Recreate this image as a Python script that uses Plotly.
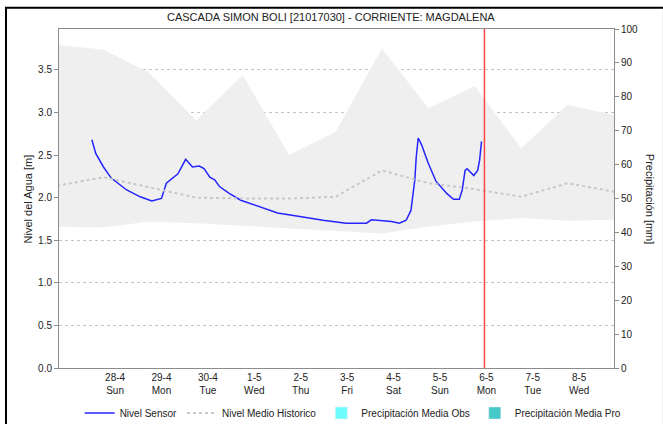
import plotly.graph_objects as go

# ---------------- data ----------------
title_text = "CASCADA SIMON BOLI [21017030] - CORRIENTE: MAGDALENA"

sensor_time = [
    "2019-04-28 00:00", "2019-04-28 02:00", "2019-04-28 06:00", "2019-04-28 10:00",
    "2019-04-28 18:00", "2019-04-29 01:00", "2019-04-29 07:00", "2019-04-29 11:00",
    "2019-04-29 12:00", "2019-04-29 14:30", "2019-04-29 18:00", "2019-04-29 20:30",
    "2019-04-30 00:30", "2019-04-30 04:00", "2019-04-30 07:30", "2019-04-30 10:00",
    "2019-04-30 13:00", "2019-04-30 15:30", "2019-04-30 18:00", "2019-04-30 23:00",
    "2019-05-01 05:00", "2019-05-01 15:00", "2019-05-02 00:00", "2019-05-02 11:30",
    "2019-05-02 23:30", "2019-05-03 11:30", "2019-05-03 22:00", "2019-05-04 00:30",
    "2019-05-04 06:30", "2019-05-04 11:00", "2019-05-04 15:00", "2019-05-04 18:30",
    "2019-05-04 21:00", "2019-05-04 23:00", "2019-05-04 23:45", "2019-05-05 00:45",
    "2019-05-05 02:30", "2019-05-05 06:00", "2019-05-05 10:00", "2019-05-05 15:30",
    "2019-05-05 19:00", "2019-05-05 22:00", "2019-05-05 23:30", "2019-05-06 01:00",
    "2019-05-06 02:00", "2019-05-06 04:00", "2019-05-06 05:30", "2019-05-06 07:30",
    "2019-05-06 08:30", "2019-05-06 09:30",
]
sensor_level = [
    2.68, 2.52, 2.36, 2.23,
    2.09, 2.01, 1.96, 1.98,
    1.99, 2.17, 2.23, 2.28,
    2.45, 2.36, 2.37, 2.34,
    2.24, 2.21, 2.13, 2.05,
    1.97, 1.89, 1.82, 1.78,
    1.735, 1.70, 1.70, 1.74,
    1.73, 1.72, 1.70, 1.735,
    1.85, 2.21, 2.48, 2.70,
    2.62, 2.40, 2.19, 2.05,
    1.98, 1.98, 2.09, 2.32,
    2.34, 2.30, 2.26, 2.32,
    2.44, 2.66,
]

hist_time = [
    "2019-04-27 06:00", "2019-04-28 06:00", "2019-04-29 06:00", "2019-04-30 06:00",
    "2019-05-01 06:00", "2019-05-02 06:00", "2019-05-03 06:00", "2019-05-04 06:00",
    "2019-05-05 06:00", "2019-05-06 06:00", "2019-05-07 06:00", "2019-05-08 06:00",
    "2019-05-09 06:00",
]
hist_max = [3.79, 3.74, 3.46, 2.91, 3.44, 2.50, 2.77, 3.75, 3.05, 3.31, 2.58, 3.09, 2.97]
hist_min = [1.66, 1.65, 1.72, 1.70, 1.67, 1.64, 1.61, 1.58, 1.66, 1.72, 1.76, 1.73, 1.74]
hist_mean = [2.14, 2.24, 2.12, 2.00, 1.99, 1.99, 2.01, 2.32, 2.17, 2.10, 2.01, 2.17, 2.07]

# no precipitation recorded in the period (legend entries only)
precip_obs_time = ["2019-05-06 11:00"]
precip_obs = [None]
precip_pro_time = ["2019-05-06 11:00"]
precip_pro = [None]

day_label_pos = [
    "2019-04-28 12:00", "2019-04-29 12:00", "2019-04-30 12:00", "2019-05-01 12:00",
    "2019-05-02 12:00", "2019-05-03 12:00", "2019-05-04 12:00", "2019-05-05 12:00",
    "2019-05-06 12:00", "2019-05-07 12:00", "2019-05-08 12:00",
]
day_label_text = [
    "28-4<br>Sun", "29-4<br>Mon", "30-4<br>Tue", "1-5<br>Wed", "2-5<br>Thu",
    "3-5<br>Fri", "4-5<br>Sat", "5-5<br>Sun", "6-5<br>Mon", "7-5<br>Tue", "8-5<br>Wed",
]

now_time = "2019-05-06 11:00"
x_range = ["2019-04-27 07:00", "2019-05-09 06:00"]
level_range = [0, 3.98]
precip_range = [0, 100]

# ---------------- figure ----------------
FONT = "Liberation Sans, Arial, sans-serif"
AXIS_COLOR = "#8c8c8c"
GRID_COLOR = "#c4c4c4"

fig = go.Figure()

fig.add_trace(go.Scatter(x=hist_time, y=hist_min, mode="lines", line=dict(width=0),
                         showlegend=False, hoverinfo="skip"))
fig.add_trace(go.Scatter(x=hist_time, y=hist_max, mode="lines", line=dict(width=0),
                         fill="tonexty", fillcolor="#efefef", showlegend=False,
                         hoverinfo="skip"))
fig.add_trace(go.Scatter(x=sensor_time, y=sensor_level, mode="lines", name="Nivel Sensor",
                         line=dict(color="#2424ff", width=1.5)))
fig.add_trace(go.Scatter(x=hist_time, y=hist_mean, mode="lines", name="Nivel Medio Historico",
                         line=dict(color="#c8c8c8", width=2, dash="dot")))
fig.add_trace(go.Bar(x=precip_obs_time, y=precip_obs, name="Precipitación Media Obs",
                     marker_color="#6ffcfc", yaxis="y2"))
fig.add_trace(go.Bar(x=precip_pro_time, y=precip_pro, name="Precipitación Media Pro",
                     marker_color="#45c8c8", yaxis="y2"))

fig.update_layout(
    width=663, height=424,
    margin=dict(l=59, r=49, t=29, b=56, autoexpand=False),
    paper_bgcolor="white", plot_bgcolor="white",
    font=dict(family=FONT, size=10, color="#222"),
    showlegend=True,
    legend=dict(orientation="h", x=0.53, xanchor="center", y=-0.09, yanchor="top",
                traceorder="normal", font=dict(size=10, color="#222"), itemwidth=30,
                tracegroupgap=0, bgcolor="rgba(0,0,0,0)"),
    xaxis=dict(
        type="date", range=x_range, tickmode="array", tickvals=day_label_pos,
        ticktext=day_label_text, ticks="", showgrid=False, zeroline=False,
        showline=True, linecolor=AXIS_COLOR, linewidth=1, mirror=True,
        tickfont=dict(size=10, color="#222"),
    ),
    xaxis2=dict(
        type="date", range=x_range, overlaying="x", anchor="y", side="bottom",
        tickmode="linear", tick0="2019-04-28", dtick=86400000, showticklabels=False,
        ticks="", showgrid=True, gridcolor=GRID_COLOR, griddash="dot", gridwidth=1,
        zeroline=False, showline=False,
        minor=dict(tickmode="linear", tick0="2019-04-28", dtick=3600000, ticks="outside",
                   ticklen=2, tickcolor="#9a9a9a", tickwidth=1, showgrid=False),
    ),
    yaxis=dict(
        range=level_range, tickmode="linear", tick0=0, dtick=0.5, tickformat=".1f",
        ticks="outside", ticklen=4, tickcolor=AXIS_COLOR, showgrid=True,
        gridcolor=GRID_COLOR, griddash="dot", zeroline=False, showline=True,
        linecolor=AXIS_COLOR, linewidth=1, tickfont=dict(size=10, color="#222"),
    ),
    yaxis2=dict(
        range=precip_range, overlaying="y", side="right", tickmode="linear", tick0=0,
        dtick=10, ticks="outside", ticklen=4, tickcolor=AXIS_COLOR, showgrid=False,
        zeroline=False, showline=True, linecolor=AXIS_COLOR, linewidth=1,
        tickfont=dict(size=10, color="#222"),
    ),
    annotations=[
        dict(text=title_text, xref="paper", yref="paper", x=0.49, y=1.0, yshift=12,
             showarrow=False, font=dict(size=11, color="#222"), xanchor="center",
             yanchor="middle"),
        dict(text="Nivel del Agua [m]", xref="paper", yref="paper", x=-0.056, y=0.5,
             textangle=-90, showarrow=False, font=dict(size=11, color="#222"),
             xanchor="center", yanchor="middle"),
        dict(text="Precipitación [mm]", xref="paper", yref="paper", x=1.066, y=0.5,
             textangle=90, showarrow=False, font=dict(size=11, color="#222"),
             xanchor="center", yanchor="middle"),
    ],
    shapes=[
        dict(type="line", xref="x", yref="paper", x0=now_time, x1=now_time, y0=0, y1=1,
             line=dict(color="#ff4545", width=1.5), layer="above"),
        dict(type="rect", xref="paper", yref="paper", x0=-0.0955, x1=1.09, y0=-0.2,
             y1=1.063, line=dict(color="black", width=2), fillcolor="rgba(0,0,0,0)",
             layer="above"),
    ],
)

fig.write_html("out.html", config={"displayModeBar": False},
               post_script="document.body.style.margin='0px';document.body.style.overflow='hidden';")
